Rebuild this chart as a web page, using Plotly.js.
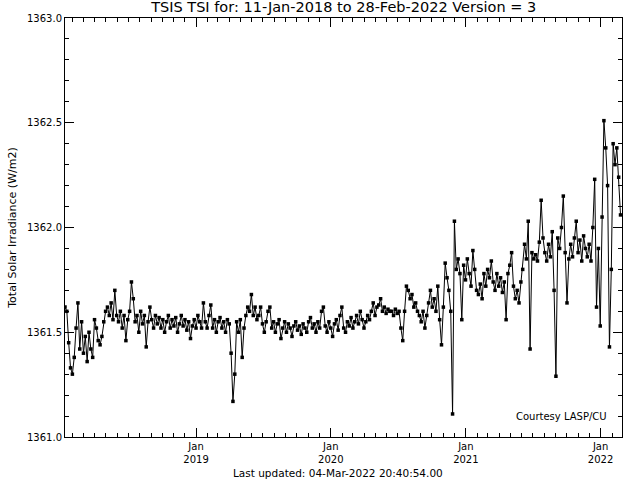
<!DOCTYPE html>
<html>
<head>
<meta charset="utf-8">
<script src="https://cdn.plot.ly/plotly-3.0.1.min.js"></script>
<style>html,body{margin:0;padding:0;background:#fff;}#chart{width:640px;height:480px;}</style>
</head>
<body>
<div id="chart"></div>
<script>
// TSIS TSI, sampled every 5 days starting 11-Jan-2018 (W/m2)
const startDate = "2018-01-11";
const stepDays = 5;
const tsi = [
1361.62,1361.60,1361.45,1361.33,1361.30, 1361.38,1361.52,1361.64,1361.42,1361.55,
1361.40,1361.48,1361.36,1361.50,1361.42, 1361.38,1361.56,1361.52,1361.46,1361.44,
1361.48,1361.55,1361.60,1361.62,1361.58, 1361.64,1361.56,1361.70,1361.58,1361.55,
1361.60,1361.52,1361.58,1361.46,1361.56, 1361.60,1361.74,1361.66,1361.55,1361.58,
1361.50,1361.60,1361.54,1361.58,1361.43, 1361.55,1361.62,1361.56,1361.52,1361.58,
1361.54,1361.57,1361.52,1361.56,1361.50, 1361.55,1361.58,1361.52,1361.56,1361.53,
1361.57,1361.50,1361.54,1361.58,1361.53, 1361.56,1361.51,1361.55,1361.47,1361.53,
1361.56,1361.52,1361.58,1361.55,1361.52, 1361.64,1361.55,1361.52,1361.58,1361.63,
1361.52,1361.56,1361.50,1361.55,1361.57, 1361.52,1361.55,1361.50,1361.56,1361.54,
1361.40,1361.17,1361.30,1361.55,1361.50, 1361.56,1361.38,1361.52,1361.58,1361.62,
1361.60,1361.68,1361.58,1361.62,1361.56, 1361.58,1361.62,1361.54,1361.50,1361.55,
1361.60,1361.62,1361.52,1361.55,1361.50, 1361.54,1361.56,1361.47,1361.52,1361.55,
1361.50,1361.54,1361.52,1361.48,1361.53, 1361.55,1361.51,1361.53,1361.49,1361.54,
1361.52,1361.50,1361.55,1361.57,1361.52, 1361.54,1361.50,1361.55,1361.52,1361.60,
1361.62,1361.53,1361.50,1361.55,1361.52, 1361.48,1361.54,1361.56,1361.51,1361.58,
1361.62,1361.52,1361.50,1361.55,1361.53, 1361.57,1361.52,1361.55,1361.58,1361.54,
1361.60,1361.56,1361.52,1361.55,1361.58, 1361.56,1361.60,1361.64,1361.58,1361.62,
1361.63,1361.66,1361.60,1361.62,1361.59, 1361.61,1361.60,1361.60,1361.58,1361.61,
1361.59,1361.60,1361.52,1361.46,1361.60, 1361.72,1361.70,1361.66,1361.68,1361.62,
1361.64,1361.60,1361.58,1361.55,1361.60, 1361.52,1361.58,1361.64,1361.70,1361.62,
1361.66,1361.60,1361.72,1361.56,1361.44, 1361.62,1361.83,1361.76,1361.70,1361.60,
1361.11,1362.03,1361.80,1361.85,1361.78, 1361.56,1361.82,1361.75,1361.85,1361.78,
1361.72,1361.89,1361.80,1361.70,1361.68, 1361.73,1361.66,1361.78,1361.72,1361.80,
1361.76,1361.84,1361.74,1361.70,1361.78, 1361.72,1361.76,1361.69,1361.74,1361.56,
1361.78,1361.82,1361.88,1361.72,1361.66, 1361.70,1361.64,1361.74,1361.80,1361.92,
1361.85,1362.03,1361.42,1361.88,1361.85, 1361.87,1361.84,1361.93,1362.13,1361.95,
1361.88,1361.84,1361.92,1361.86,1361.98, 1361.70,1361.29,1361.95,1361.90,1362.00,
1362.15,1361.88,1361.64,1361.85,1361.92, 1361.86,1361.95,1362.03,1361.88,1361.94,
1361.84,1361.96,1361.90,1361.86,1361.92, 1361.84,1362.00,1362.23,1361.62,1361.90,
1361.53,1362.05,1362.51,1362.38,1362.20, 1361.43,1361.80,1362.40,1362.30,1362.38,
1362.24,1362.06
];
const titleText = "TSIS TSI for: 11-Jan-2018 to 28-Feb-2022 Version = 3";
const yTitle = "Total Solar Irradiance (W/m2)";
const footText = "Last updated: 04-Mar-2022 20:40:54.00";
const creditText = "Courtesy LASP/CU";
const xRange = ["2018-01-11", "2022-02-28"];
const yRange = [1361.0, 1363.0];

const t0 = Date.parse(startDate + "T00:00:00Z");
const dates = tsi.map((_, i) => new Date(t0 + i * stepDays * 86400000).toISOString().slice(0, 10));

const FONT = "DejaVu Sans, Liberation Sans, sans-serif";
const trace = {
  x: dates, y: tsi, type: "scatter", mode: "lines+markers",
  line: {color: "#000", width: 1},
  marker: {color: "#000", size: 3.5, symbol: "square"},
  hoverinfo: "skip"
};
const layout = {
  width: 640, height: 480,
  margin: {l: 65, r: 18, t: 18, b: 43},
  paper_bgcolor: "#fff", plot_bgcolor: "#fff",
  showlegend: false,
  font: {family: FONT, size: 10, color: "#000"},
  title: {text: titleText, x: 0.537, xanchor: "center", y: 0.985, yanchor: "middle",
          font: {family: FONT, size: 14.5, color: "#000"}},
  xaxis: {
    type: "date", range: xRange, showgrid: false, zeroline: false,
    showline: true, linecolor: "#000", linewidth: 1, mirror: "ticks",
    ticks: "inside", ticklen: 9, tickcolor: "#000",
    tick0: "2019-01-01", dtick: "M12", tickformat: "%b<br>%Y",
    minor: {ticks: "inside", ticklen: 4, dtick: "M1", tick0: "2018-01-01", tickcolor: "#000", showgrid: false},
    tickfont: {family: FONT, size: 10, color: "#000"}
  },
  yaxis: {
    range: yRange, showgrid: false, zeroline: false,
    showline: true, linecolor: "#000", linewidth: 1, mirror: "ticks",
    ticks: "inside", ticklen: 9, tickcolor: "#000",
    tick0: 1361, dtick: 0.5, tickformat: ".1f",
    minor: {ticks: "inside", ticklen: 4, dtick: 0.1, tickcolor: "#000", showgrid: false},
    tickfont: {family: FONT, size: 10, color: "#000"},
    title: {text: yTitle, font: {family: FONT, size: 11, color: "#000"}, standoff: 8}
  },
  annotations: [
    {text: footText, xref: "paper", yref: "paper", x: 0.49, y: -0.087, xanchor: "center", yanchor: "middle",
     showarrow: false, font: {family: FONT, size: 10.5, color: "#000"}},
    {text: creditText, xref: "paper", yref: "paper", x: 0.977, y: 0.05, xanchor: "right", yanchor: "middle",
     showarrow: false, font: {family: FONT, size: 10, color: "#000"}}
  ]
};
Plotly.newPlot("chart", [trace], layout, {staticPlot: true, displayModeBar: false});
</script>
</body>
</html>
